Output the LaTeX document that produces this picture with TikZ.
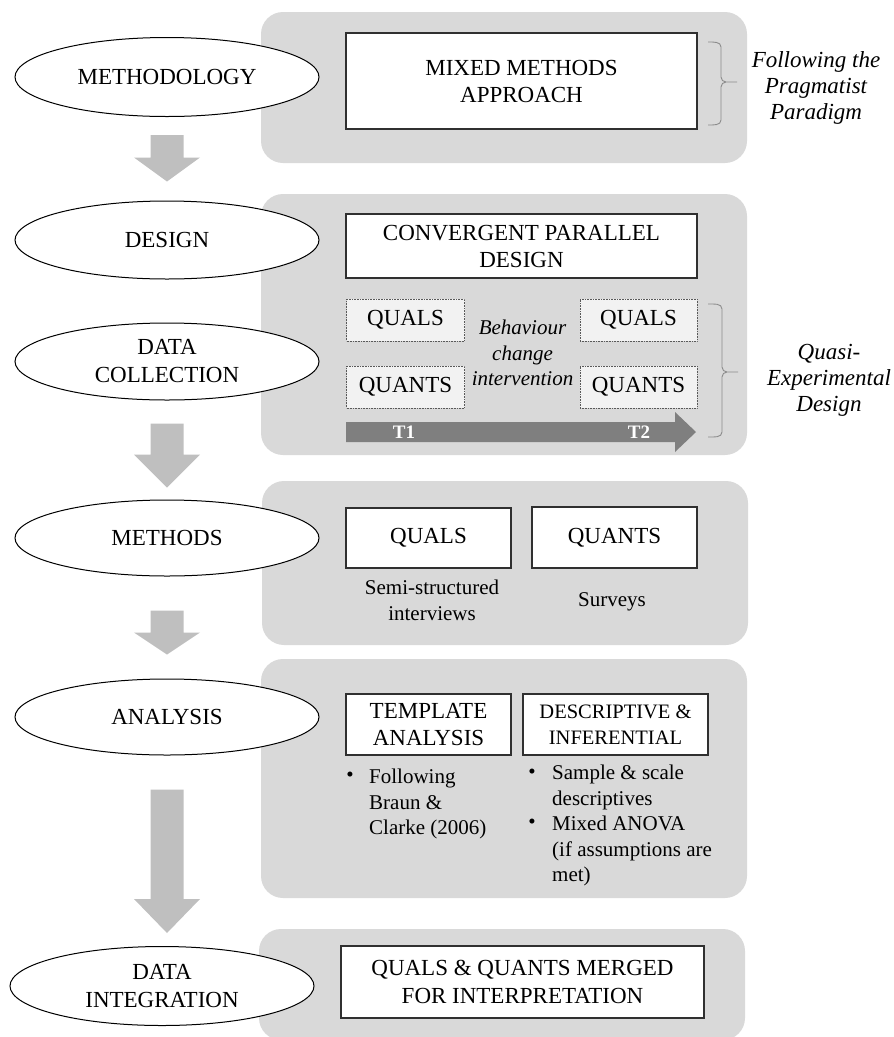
\documentclass[tikz,border=0pt]{standalone}
\usepackage{fontspec}
\setmainfont{Liberation Serif}
\usetikzlibrary{shapes.geometric,calc}

\definecolor{panelgray}{HTML}{D9D9D9}
\definecolor{arrowgray}{HTML}{BFBFBF}
\definecolor{timegray}{HTML}{7F7F7F}
\definecolor{bracegray}{HTML}{8C8C8C}
\definecolor{cellfill}{HTML}{F2F2F2}
\definecolor{edgegray}{HTML}{303030}

\newcommand\fbig{\fontsize{23}{27}\selectfont}
\newcommand\fell{\fontsize{23}{28}\selectfont}
\newcommand\fnote{\fontsize{21}{25.5}\selectfont}
\newcommand\fside{\fontsize{23}{26}\selectfont\itshape}

% block arrow between two points: #1 start, #2 tip, #3 head length
\newcommand\blockarr[3]{%
  \fill[arrowgray] ($(#1)+(-16.5,0)$) -- ($(#1)+(16.5,0)$)
    -- ($(#2)+(16.5,-#3)$) -- ($(#2)+(33,-#3)$) -- (#2)
    -- ($(#2)+(-33,-#3)$) -- ($(#2)+(-16.5,-#3)$) -- cycle;}

\begin{document}
\begin{tikzpicture}[x=1pt,y=-1pt,
  panel/.style={fill=panelgray, rounded corners=22pt},
  phase/.style={ellipse, draw=black, line width=1pt, fill=white,
    minimum width=304pt, minimum height=79pt, inner sep=0pt,
    align=center, font=\fell},
  boxw/.style={draw=edgegray, line width=1.4pt, fill=white, inner sep=0pt,
    align=center, font=\fbig},
  cell/.style={draw=gray!70!black, densely dotted, line width=0.6pt,
    fill=cellfill, inner sep=0pt, font=\fbig,
    minimum width=118pt, minimum height=42pt},
  note/.style={align=center, font=\fnote, inner sep=0pt},
  bullettext/.style={align=left, font=\fnote, inner sep=0pt, anchor=west},
  dot/.style={font=\fnote, inner sep=0pt},
  side/.style={align=center, font=\fside, inner sep=0pt},
  brace/.style={draw=bracegray, line width=0.9pt},
  tlabel/.style={text=white, font=\fontsize{19}{22}\selectfont\bfseries, inner sep=0pt}
]
\useasboundingbox (0,0) rectangle (894,1037);

% grey bands behind each stage
\fill[panel] (261,12) rectangle (747,163);
\fill[panel] (261,194) rectangle (747,455);
\fill[panel] (262,481) rectangle (748,645);
\fill[panel] (261,659) rectangle (747,898);
\fill[panel] (259,929) rectangle (745,1040);

% stages
\node[phase] (e1) at (167,77) {METHODOLOGY};
\node[phase, minimum height=78pt] (e2) at (167,240) {DESIGN};
\node[phase, minimum height=77pt] (e3) at (167,361.5) {DATA\\COLLECTION};
\node[phase, minimum height=76pt] (e4) at (167,538) {METHODS};
\node[phase, minimum height=76pt] (e5) at (167,717) {ANALYSIS};
\node[phase] (e6) at (162,986) {DATA\\INTEGRATION};

% arrows between stages
\path (e1.south) ++(0,18) coordinate (a1s);
\path (e2.north) ++(0,-19) coordinate (a1e);
\blockarr{a1s}{a1e}{24}
\path (e3.south) ++(0,23) coordinate (a2s);
\path (e4.north) ++(0,-12) coordinate (a2e);
\blockarr{a2s}{a2e}{33}
\path (e4.south) ++(0,34) coordinate (a3s);
\path (e5.north) ++(0,-24) coordinate (a3e);
\blockarr{a3s}{a3e}{22}
\path (e5.south) ++(0,34) coordinate (a4s);
\path (e6.north) ++(0,-13) coordinate (a4t);
\coordinate (a4e) at (a4s |- a4t);
\blockarr{a4s}{a4e}{34}

% methodology
\node[boxw, minimum width=351pt, minimum height=96pt] (mm) at (521.5,81)
  {MIXED METHODS\\APPROACH};
\draw[brace] (708,42) to[out=0,in=90] (721,47) -- (721,77)
  to[out=-90,in=180] (726,82) -- (737,82) -- (726,82)
  to[out=180,in=90] (721,87) -- (721,120) to[out=-90,in=0] (708,125);
\node[side] (prag) at (816,88) {Following the\\Pragmatist\\Paradigm};

% design and data collection
\node[boxw, minimum width=351pt, minimum height=64pt] (cpd) at (521.5,246)
  {CONVERGENT PARALLEL\\DESIGN};
\node[cell] (ql1) at (405.5,320) {QUALS};
\node[cell] (qn1) at (405.5,387) {QUANTS};
\node[cell, minimum width=117pt] (ql2) at (638.5,320) {QUALS};
\node[cell, minimum width=117pt] (qn2) at (638.5,387) {QUANTS};
\node[side, font=\fontsize{21}{25.5}\selectfont\itshape] (bci) at (522.5,353)
  {Behaviour\\change\\intervention};
\fill[timegray] (346,422) -- (675,422) -- (675,412) -- (696,432)
  -- (675,452) -- (675,442) -- (346,442) -- cycle;
\node[tlabel] (t1) at (404,432) {T1};
\node[tlabel] (t2) at (639,432) {T2};
\draw[brace] (708,304) to[out=0,in=90] (722,309) -- (722,367)
  to[out=-90,in=180] (727,372) -- (738,372) -- (727,372)
  to[out=180,in=90] (722,377) -- (722,432) to[out=-90,in=0] (708,437);
\node[side] (qed) at (829,380) {Quasi-\\Experimental\\Design};

% methods
\node[boxw, minimum width=165pt, minimum height=60pt] (mql) at (428.5,538) {QUALS};
\node[boxw, minimum width=165pt, minimum height=61pt] (mqn) at (614.5,537.5) {QUANTS};
\node[note] (ssi) at (432,600.5) {Semi-structured\\interviews};
\node[note] (srv) at (612,602) {Surveys};

% analysis
\node[boxw, minimum width=165pt, minimum height=61pt] (tpl) at (428.5,724.5)
  {TEMPLATE\\ANALYSIS};
\node[boxw, minimum width=185pt, minimum height=61pt,
  font=\fontsize{20.5}{25.5}\selectfont] (dsi) at (615.5,724.5)
  {DESCRIPTIVE \&\\INFERENTIAL};
\node[dot] (b1) at (350,777) {•};
\node[bullettext] (bt1) at (369,804) {Following\\Braun \&\\Clarke (2006)};
\node[dot] (b2) at (532,774) {•};
\node[bullettext] (bt2) at (552,787.5) {Sample \& scale\\descriptives};
\node[dot] (b3) at (532,824) {•};
\node[bullettext] (bt3) at (552,851) {Mixed ANOVA\\(if assumptions are\\met)};

% data integration
\node[boxw, minimum width=363pt, minimum height=72pt,
  font=\fontsize{23}{28}\selectfont] (mrg) at (522.5,982)
  {QUALS \& QUANTS MERGED\\FOR INTERPRETATION};
\end{tikzpicture}
\end{document}
